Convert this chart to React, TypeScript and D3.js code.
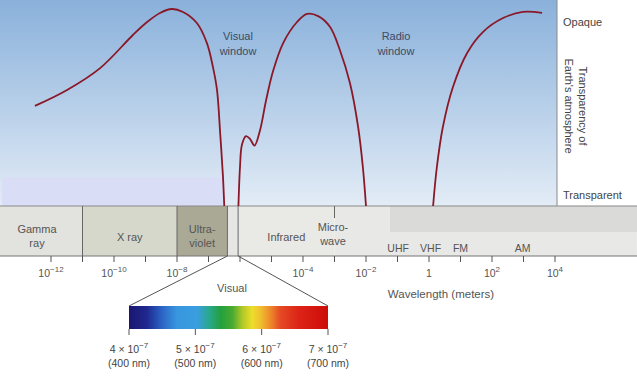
import React from "react";
import * as d3 from "d3";

// log10(wavelength in meters) vs atmospheric opacity (0 = transparent, 1 = opaque)
const seg1Log = [-12.51, -11.49, -10.44, -9.4, -8.95, -8.54, -8.16, -7.81, -7.37, -7.05, -6.86, -6.73, -6.63, -6.54, -6.5];
const seg1Op = [0.508, 0.589, 0.7, 0.868, 0.934, 0.98, 1.0, 0.985, 0.929, 0.827, 0.706, 0.589, 0.371, 0.147, 0.0];
const seg2Log = [-6.05, -6.0, -5.94, -5.81, -5.68, -5.54, -5.37, -5.17, -4.95, -4.63, -4.19, -3.87, -3.52, -3.14, -2.83, -2.51, -2.25, -2.1, -2.0];
const seg2Op = [0.0, 0.198, 0.31, 0.355, 0.34, 0.307, 0.381, 0.538, 0.685, 0.827, 0.934, 0.975, 0.964, 0.909, 0.792, 0.624, 0.401, 0.198, 0.0];
const seg3Log = [0.13, 0.25, 0.44, 0.76, 1.21, 1.71, 2.35, 2.98, 3.59];
const seg3Op = [0.0, 0.198, 0.401, 0.604, 0.777, 0.883, 0.954, 0.985, 0.98];

// spectrum bands (log10 meters)
const bandNames = ["Gamma|ray", "X ray", "Ultra-|violet", "", "Infrared", "Micro-|wave"];
const bandStart = [-13.62, -11, -8, -6.4, -6.06, -3];
const bandEnd = [-11, -8, -6.4, -6.06, -3, 6.6];
const bandColors = ["#e2e2de", "#d6d8cc", "#a9a996", "#e6e6e4", "#e9e9e6", "#e8e8e6"];

const radioNames = ["UHF", "VHF", "FM", "AM"];
const radioLog = [-0.98, 0.05, 1.0, 2.97];

const tickExps = d3.range(-12, 5);
const labelExps = [-12, -10, -8, -4, -2, 0, 2, 4];

const visNm = [400, 500, 600, 700];
const visExpLabel = ["4", "5", "6", "7"];

const specStops = [
  [0, "#1b1670"], [0.09, "#1f2890"], [0.17, "#2c68c8"], [0.24, "#3896de"], [0.34, "#3a9ee0"],
  [0.4, "#2aa890"], [0.46, "#22a040"], [0.52, "#4aaa30"], [0.57, "#b0c828"], [0.62, "#eedd2a"],
  [0.66, "#f0c030"], [0.71, "#ee8a2a"], [0.76, "#e44a24"], [0.85, "#dd2418"], [1, "#cc0c08"],
] as const;

const FONT = "'Liberation Sans', Arial, Helvetica, sans-serif";

export default function App() {
  const W = 637, H = 380;
  const x = d3.scaleLinear().domain([-12, 4]).range([51, 555]);
  const y = d3.scaleLinear().domain([0, 1]).range([206, 9]);
  const line = d3.line<[number, number]>().x(d => x(d[0])).y(d => y(d[1])).curve(d3.curveCatmullRom.alpha(0.5));
  const segs = [
    d3.zip(seg1Log, seg1Op),
    d3.zip(seg2Log, seg2Op),
    d3.zip(seg3Log, seg3Op),
  ] as [number, number][][];

  const bandTop = 206, bandBot = 256;
  const skyRight = 557;
  const visL = x(-6.4), visR = x(-6.06);
  const sx = d3.scaleLinear().domain([400, 700]).range([129, 328]);
  const specTop = 306, specBot = 329;

  return (
    <svg width={W} height={H} style={{ position: "absolute", left: 0, top: 0, background: "#fff" }} fontFamily={FONT}>
      <defs>
        <linearGradient id="sky" x1="0" y1="0" x2="0" y2="1">
          <stop offset="0" stopColor="#8ab1db" />
          <stop offset="0.45" stopColor="#b1cbe7" />
          <stop offset="1" stopColor="#e3ecf6" />
        </linearGradient>
        <linearGradient id="spec" x1="0" y1="0" x2="1" y2="0">
          {specStops.map(([o, c], i) => <stop key={i} offset={o} stopColor={c} />)}
        </linearGradient>
      </defs>
      {/* sky */}
      <rect x={0} y={0} width={skyRight} height={bandTop} fill="url(#sky)" />
      <rect x={2} y={177} width={221} height={bandTop - 177} fill="#d9def6" rx={3} />
      <line x1={skyRight} x2={skyRight} y1={0} y2={bandTop} stroke="#8a8a8a" strokeWidth={1} />

      {/* band */}
      {bandStart.map((s, i) => (
        <rect key={i} x={Math.max(0, x(s))} y={bandTop} width={Math.min(W, x(bandEnd[i])) - Math.max(0, x(s))} height={bandBot - bandTop} fill={bandColors[i]} />
      ))}
      <rect x={390} y={bandTop} width={W - 390} height={26} fill="#dadad8" />
      <line x1={0} x2={W} y1={bandTop} y2={bandTop} stroke="#8a8a8a" strokeWidth={1.2} />
      <line x1={0} x2={W} y1={bandBot} y2={bandBot} stroke="#777" strokeWidth={1.2} />
      {bandStart.slice(1).map((s, i) => (
        <line key={i} x1={x(s)} x2={x(s)} y1={bandTop} y2={s === -3 ? 218 : bandBot} stroke="#666" strokeWidth={1} />
      ))}
      {bandNames.map((n, i) => {
        if (!n) return null;
        const parts = n.split("|");
        const cx = i === 0 ? 37 : i === 5 ? 333 : (Math.max(0, x(bandStart[i])) + x(bandEnd[i])) / 2;
        const y0 = parts.length > 1 ? (i === 5 ? 231 : 233) : 241;
        return (
          <text key={i} x={cx} y={y0} fontSize={11} fill="#555" textAnchor="middle">
            {parts.map((p, j) => <tspan key={j} x={cx} dy={j === 0 ? 0 : 14}>{p}</tspan>)}
          </text>
        );
      })}
      {radioNames.map((n, i) => (
        <text key={n} x={x(radioLog[i])} y={252} fontSize={10.5} fill="#555" textAnchor="middle">{n}</text>
      ))}

      {/* axis */}
      {tickExps.map(e => (
        <line key={e} x1={x(e)} x2={x(e)} y1={bandBot} y2={bandBot + 6} stroke="#555" strokeWidth={1} />
      ))}
      {labelExps.map(e => (
        <text key={e} x={x(e)} y={277} fontSize={10.5} fill="#555" textAnchor="middle">
          {e === 0 ? "1" : (<>10<tspan fontSize={8} dy={-5}>{e < 0 ? "−" + Math.abs(e) : e}</tspan></>)}
        </text>
      ))}
      <text x={441} y={298} fontSize={11.5} fill="#555" textAnchor="middle">Wavelength (meters)</text>

      {/* curve */}
      {segs.map((s, i) => (
        <path key={i} d={line(s) || ""} fill="none" stroke="#8a1828" strokeWidth={1.8} />
      ))}

      {/* sky labels */}
      <text x={238} y={40} fontSize={11} fill="#3c4a66" textAnchor="middle">
        <tspan x={238}>Visual</tspan><tspan x={238} dy={15}>window</tspan>
      </text>
      <text x={396} y={40} fontSize={11} fill="#3c4a66" textAnchor="middle">
        <tspan x={396}>Radio</tspan><tspan x={396} dy={15}>window</tspan>
      </text>

      {/* right panel */}
      <text x={563} y={26} fontSize={11} fill="#444">Opaque</text>
      <text x={563} y={199} fontSize={11} fill="#444">Transparent</text>
      <g transform="translate(579,106) rotate(90)">
        <text x={0} y={0} fontSize={11} fill="#444" textAnchor="middle">Transparency of</text>
        <text x={0} y={14} fontSize={11} fill="#444" textAnchor="middle">Earth's atmosphere</text>
      </g>

      {/* visual spectrum zoom */}
      <line x1={visL} y1={bandBot} x2={sx(400)} y2={specTop} stroke="#555" strokeWidth={1} />
      <line x1={visR} y1={bandBot} x2={sx(700)} y2={specTop} stroke="#555" strokeWidth={1} />
      <text x={232} y={292} fontSize={11} fill="#555" textAnchor="middle">Visual</text>
      <rect x={sx(400)} y={specTop} width={sx(700) - sx(400)} height={specBot - specTop} fill="url(#spec)" />
      {visNm.map((nm, i) => (
        <g key={nm}>
          <line x1={sx(nm)} x2={sx(nm)} y1={specBot} y2={specBot + 6} stroke="#555" strokeWidth={1} />
          <text x={sx(nm)} y={353} fontSize={10.5} fill="#444" textAnchor="middle">
            {visExpLabel[i]} × 10<tspan fontSize={8} dy={-5}>−7</tspan>
          </text>
          <text x={sx(nm)} y={367} fontSize={10.5} fill="#444" textAnchor="middle">({nm} nm)</text>
        </g>
      ))}
    </svg>
  );
}
